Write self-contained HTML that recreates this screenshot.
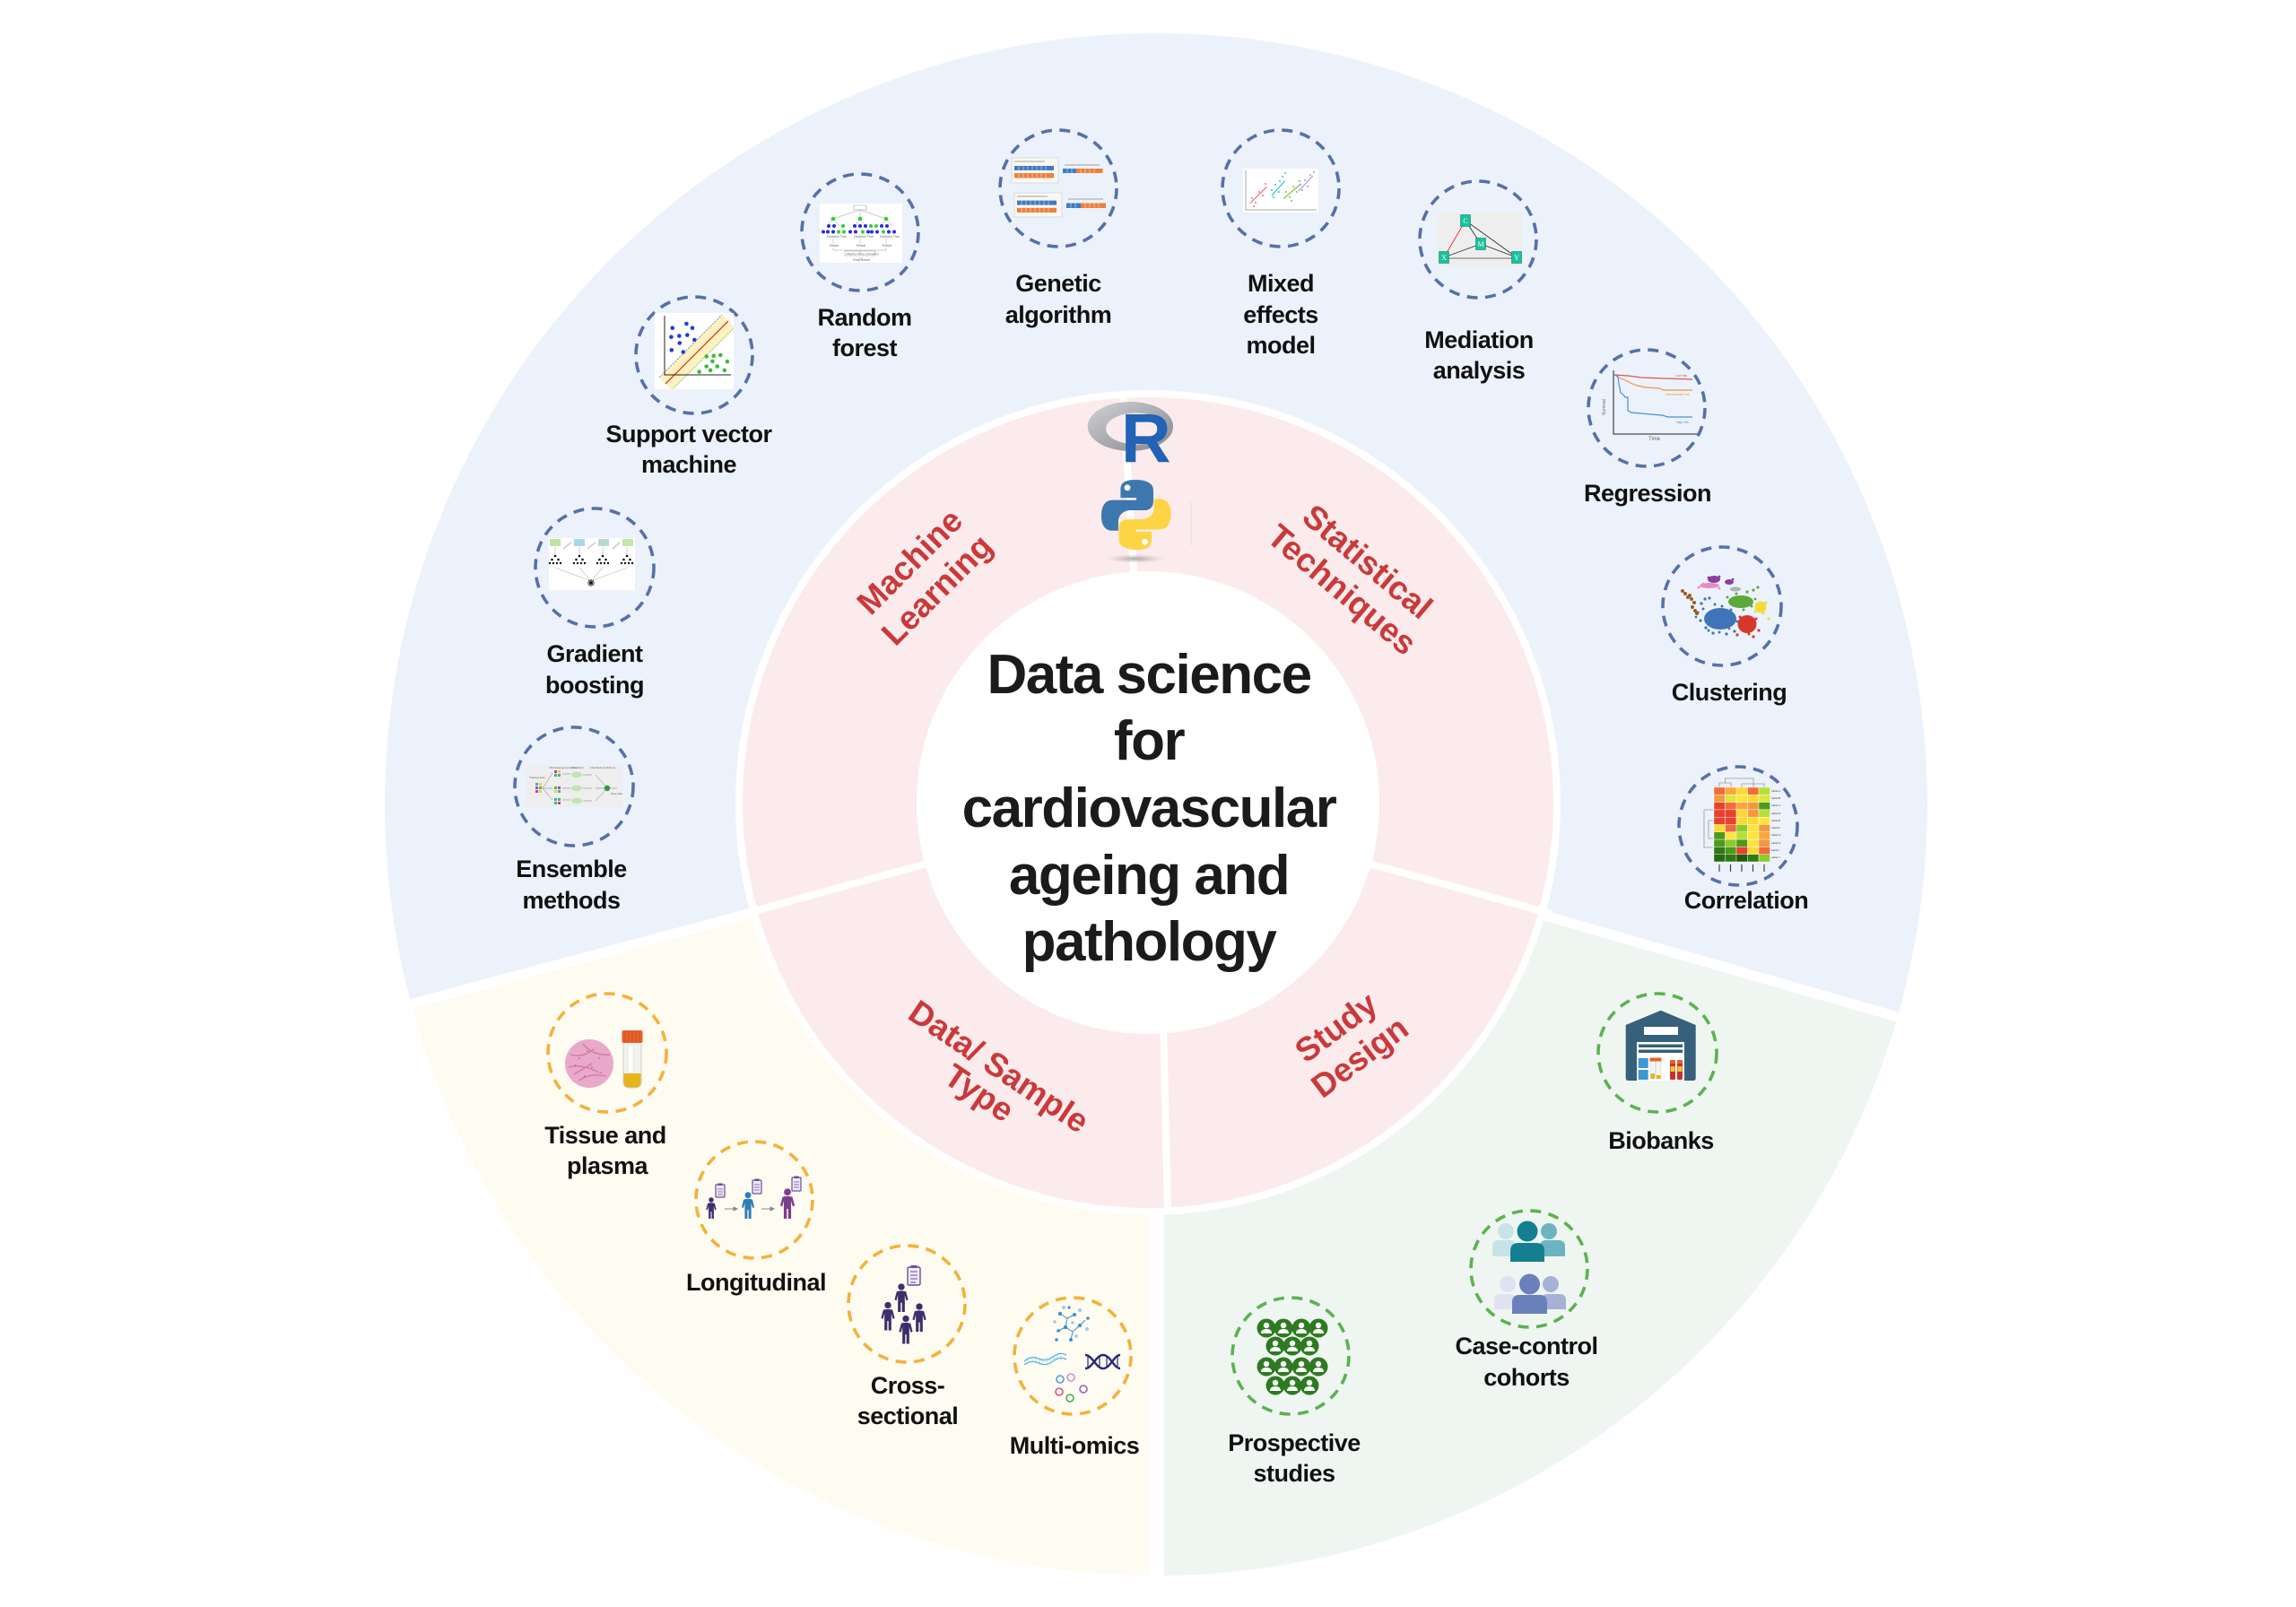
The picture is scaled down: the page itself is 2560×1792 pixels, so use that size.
<!DOCTYPE html>
<html><head><meta charset="utf-8">
<style>
html,body{margin:0;padding:0;background:#fff;}
svg{display:block;}
.lb{font-family:"Liberation Sans",Arial,sans-serif;font-weight:bold;font-size:27px;fill:#111;text-anchor:middle;letter-spacing:-0.5px;}
.rd{font-family:"Liberation Sans",Arial,sans-serif;font-weight:bold;font-size:37px;fill:#c93a3b;text-anchor:middle;}
.tt{font-family:"Liberation Sans",Arial,sans-serif;font-weight:bold;font-size:62px;fill:#1b1b1b;text-anchor:middle;letter-spacing:-1.5px;}
.tiny{font-family:"Liberation Sans",Arial,sans-serif;font-size:3.6px;fill:#666;}
.dc{fill:none;stroke-width:3.6;stroke-dasharray:12 8.5;}
.db{stroke:#5571a9;}
.dy{stroke:#f3b23a;}
.dg{stroke:#5cb24f;}
</style></head><body>
<svg width="2560" height="1792" viewBox="0 0 2560 1792" xmlns="http://www.w3.org/2000/svg">
<defs>
<linearGradient id="rg" x1="0" y1="0" x2="1" y2="1"><stop offset="0" stop-color="#d0d1d5"/><stop offset="1" stop-color="#85878d"/></linearGradient>
<radialGradient id="sh"><stop offset="0" stop-color="#888" stop-opacity="0.7"/><stop offset="1" stop-color="#aaa" stop-opacity="0"/></radialGradient>
<symbol id="person" viewBox="0 0 20 40">
<circle cx="10" cy="5" r="4.6"/>
<path d="M3.5,11.5 Q10,9.5 16.5,11.5 L19.5,23 L16.8,24 L14.8,16.5 L14.8,40 L10.9,40 L10.9,27 L9.1,27 L9.1,40 L5.2,40 L5.2,16.5 L3.2,24 L0.5,23 Z"/>
</symbol>
<clipPath id="csvm"><rect x="730" y="349" width="88" height="85"/></clipPath>
</defs>

<rect width="2560" height="1792" fill="#fff"/>

<!-- outer sectors -->
<path d="M1289,897 L458.3,1119.6 A860,860 0 1 1 2115.7,1134 Z" fill="#ecf2fb"/>
<path d="M1289,897 L1289,1757 A860,860 0 0 1 458.3,1119.6 Z" fill="#fefbf1"/>
<path d="M1289,897 L2115.7,1134 A860,860 0 0 1 1289,1757 Z" fill="#eff6f2"/>
<line x1="1712" y1="1018" x2="2140" y2="1141" stroke="#fff" stroke-width="11"/>
<line x1="864" y1="1011" x2="434" y2="1126" stroke="#fff" stroke-width="11"/>
<line x1="1289.5" y1="1320" x2="1289.5" y2="1775" stroke="#fff" stroke-width="17"/>

<!-- pink ring -->
<circle cx="1280" cy="895" r="460" fill="#fff"/>
<circle cx="1280" cy="895" r="452" fill="#fcebec"/>
<line x1="1264.7" y1="645.5" x2="1252.2" y2="440" stroke="#fff" stroke-width="8"/>
<line x1="1048.6" y1="958.7" x2="830" y2="1019" stroke="#fff" stroke-width="8"/>
<line x1="1511.4" y1="958.7" x2="1730" y2="1019" stroke="#fff" stroke-width="8"/>
<line x1="1297" y1="1140" x2="1302" y2="1350" stroke="#fff" stroke-width="8"/>
<circle cx="1280" cy="895" r="258" fill="#fff"/>

<!-- title -->
<text class="tt" x="1281" y="773">Data science</text>
<text class="tt" x="1281" y="847">for</text>
<text class="tt" x="1281" y="922">cardiovascular</text>
<text class="tt" x="1281" y="997">ageing and</text>
<text class="tt" x="1281" y="1071">pathology</text>

<!-- red labels -->
<g transform="translate(1014,626) rotate(-45)"><text class="rd" y="13">Machine</text></g>
<g transform="translate(1045,658) rotate(-45)"><text class="rd" y="12">Learning</text></g>
<g transform="translate(1525,626) rotate(40)"><text class="rd" y="13">Statistical</text></g>
<g transform="translate(1496,658) rotate(40)"><text class="rd" y="12">Techniques</text></g>
<g transform="translate(1114,1189) rotate(34)"><text class="rd" y="13">Data/ Sample</text></g>
<g transform="translate(1091,1220) rotate(34)"><text class="rd" y="11">Type</text></g>
<g transform="translate(1490,1146) rotate(-37)"><text class="rd" y="12">Study</text></g>
<g transform="translate(1517,1180) rotate(-37)"><text class="rd" y="11">Design</text></g>

<!-- R logo -->
<ellipse cx="1260.4" cy="475.5" rx="47.7" ry="27.5" fill="url(#rg)"/>
<ellipse cx="1267" cy="478" rx="34" ry="17.5" fill="#fcebec"/>
<text x="1250" y="515" style="font-family:'Liberation Sans',Arial,sans-serif;font-weight:bold;font-size:77px;fill:#2163b6;">R</text>
<!-- Python logo -->
<ellipse cx="1266" cy="623" rx="33" ry="5" fill="url(#sh)"/>
<g transform="translate(1228,535) scale(1.26)">
<path fill="#3c78ae" d="M30,0 C18,0 17,5 17,9 L17,16 L31,16 L31,18 L10,18 C3,18 0,24 0,32 C0,41 4,45 10,45 L15,45 L15,37 C15,31 20,27 26,27 L38,27 C43,27 46,24 46,19 L46,9 C46,4 41,0 30,0 Z"/>
<path fill="#fdd444" transform="rotate(180 30.75 31)" d="M30,0 C18,0 17,5 17,9 L17,16 L31,16 L31,18 L10,18 C3,18 0,24 0,32 C0,41 4,45 10,45 L15,45 L15,37 C15,31 20,27 26,27 L38,27 C43,27 46,24 46,19 L46,9 C46,4 41,0 30,0 Z"/>
<circle cx="23" cy="7" r="2.7" fill="#fff"/>
<circle cx="38.5" cy="55" r="2.7" fill="#fff"/>
</g>
<line x1="1328" y1="560" x2="1328" y2="608" stroke="#dcdcdc" stroke-width="1"/>

<!-- ============ BLUE SECTOR ICONS ============ -->
<!-- SVM -->
<circle class="dc db" cx="774" cy="396" r="65"/>
<rect x="730" y="349" width="88" height="85" fill="#fff"/>
<g clip-path="url(#csvm)">
<polygon points="735,421 805,351 819,365 749,435" fill="#fbf2bd"/>
<line x1="742" y1="428" x2="812" y2="358" stroke="#e0312f" stroke-width="1.3"/>
<line x1="735" y1="421" x2="805" y2="351" stroke="#5b6fd6" stroke-width="0.8" stroke-dasharray="2 1.5"/>
<line x1="749" y1="435" x2="819" y2="365" stroke="#6bbf4a" stroke-width="0.8" stroke-dasharray="2 1.5"/>
</g>
<path d="M741,352 L741,418 L815,418" fill="none" stroke="#222" stroke-width="1"/>
<g fill="#1f3fe0">
<circle cx="749.7" cy="365.7" r="2.3"/><circle cx="765.4" cy="361" r="2.3"/><circle cx="772" cy="365.7" r="2.3"/><circle cx="748.4" cy="375.7" r="2.3"/><circle cx="757.3" cy="374.6" r="2.3"/><circle cx="766.3" cy="373.6" r="2.3"/><circle cx="774.3" cy="379" r="2.3"/><circle cx="757.8" cy="382.5" r="2.3"/><circle cx="748.8" cy="390.4" r="2.3"/><circle cx="761.8" cy="392.5" r="2.3"/>
</g>
<g fill="#3dbb3d">
<circle cx="787.7" cy="397.5" r="2.3"/><circle cx="795.7" cy="396.8" r="2.3"/><circle cx="803.3" cy="396" r="2.3"/><circle cx="779.6" cy="414.6" r="2.3"/><circle cx="787.7" cy="408.6" r="2.3"/><circle cx="794.4" cy="402.9" r="2.3"/><circle cx="799.7" cy="408.6" r="2.3"/><circle cx="807.8" cy="412.9" r="2.3"/><circle cx="792.1" cy="412.9" r="2.3"/><circle cx="810.9" cy="403.2" r="2.3"/>
</g>
<text class="lb" x="768" y="493">Support vector</text>
<text class="lb" x="768" y="527">machine</text>

<!-- Random forest -->
<circle class="dc db" cx="959" cy="259" r="65"/>
<rect x="914" y="227" width="92" height="66" fill="#fff"/>
<rect x="952" y="229" width="14" height="5" fill="none" stroke="#999" stroke-width="0.5"/>
<path d="M959,234 L929,244 M959,234 L959,244 M959,234 L988,244 M929,244 L922,252 M929,244 L936,252 M959,244 L953,252 M959,244 L965,252 M988,244 L981,252 M988,244 L995,252 M929,266 V272 M959,266 V272 M988,266 V272 M929,276 V279 H988 V276 M959,279 V283 M959,287 V290" stroke="#999" stroke-width="0.5" fill="none"/>
<g fill="#2fd12f"><circle cx="929" cy="244" r="2.3"/><circle cx="959" cy="244" r="2.3"/><circle cx="988" cy="244" r="2.3"/><circle cx="940" cy="252" r="2"/><circle cx="971" cy="252" r="2"/><circle cx="977" cy="252" r="2"/><circle cx="935" cy="258.5" r="2"/><circle cx="941" cy="258.5" r="2"/><circle cx="962" cy="258.5" r="2"/><circle cx="985" cy="258.5" r="2"/></g>
<g fill="#2a2ae0"><circle cx="924" cy="252" r="2"/><circle cx="930" cy="252" r="2"/><circle cx="953" cy="252" r="2"/><circle cx="959" cy="252" r="2"/><circle cx="965" cy="252" r="2"/><circle cx="983" cy="252" r="2"/><circle cx="989" cy="252" r="2"/><circle cx="918" cy="258.5" r="2"/><circle cx="923" cy="258.5" r="2"/><circle cx="929" cy="258.5" r="2"/><circle cx="948" cy="258.5" r="2"/><circle cx="954" cy="258.5" r="2"/><circle cx="968" cy="258.5" r="2"/><circle cx="972" cy="258.5" r="2"/><circle cx="978" cy="258.5" r="2"/><circle cx="991" cy="258.5" r="2"/><circle cx="997" cy="258.5" r="2"/></g>
<text class="tiny" x="922" y="265">Decision Tree</text><text class="tiny" x="952" y="265">Decision Tree</text><text class="tiny" x="981" y="265">Decision Tree</text>
<text class="tiny" x="925" y="275">Result</text><text class="tiny" x="955" y="275">Result</text><text class="tiny" x="984" y="275">Result</text>
<rect x="942" y="280" width="34" height="5" fill="none" stroke="#999" stroke-width="0.5"/>
<text class="tiny" x="944" y="284" style="font-size:3px">Majority Voting / Averaging</text>
<text class="tiny" x="951" y="291">Final Result</text>
<text class="lb" x="964" y="363">Random</text>
<text class="lb" x="964" y="397">forest</text>

<!-- Genetic algorithm -->
<circle class="dc db" cx="1180" cy="210" r="65"/>
<rect x="1128" y="176" width="52" height="28" fill="#f8f8f2" stroke="#ccc" stroke-width="0.6"/>
<line x1="1131" y1="180" x2="1165" y2="180" stroke="#888" stroke-width="0.8"/>
<rect x="1131" y="185" width="44" height="5" fill="#3e7ac4"/>
<rect x="1131" y="193" width="44" height="5.5" fill="#ef7f3a"/>
<line x1="1187" y1="184" x2="1226" y2="184" stroke="#888" stroke-width="0.8"/>
<rect x="1185" y="188" width="15" height="5" fill="#3e7ac4"/>
<rect x="1200" y="188" width="29.5" height="5" fill="#ef7f3a"/>
<rect x="1131" y="215" width="53" height="27" fill="#f8f8f2" stroke="#ccc" stroke-width="0.6"/>
<line x1="1134" y1="219" x2="1168" y2="219" stroke="#888" stroke-width="0.8"/>
<rect x="1134" y="223.6" width="44" height="5" fill="#3e7ac4"/>
<rect x="1134" y="231.8" width="44" height="5.2" fill="#ef7f3a"/>
<line x1="1191" y1="222" x2="1230" y2="222" stroke="#888" stroke-width="0.8"/>
<rect x="1189" y="226.5" width="16" height="5.5" fill="#3e7ac4"/>
<rect x="1205" y="226.5" width="28" height="5.5" fill="#ef7f3a"/>
<g stroke="#fff" stroke-width="0.5"><path d="M1136,185 v5 M1141,185 v5 M1146,185 v5 M1151,185 v5 M1156,185 v5 M1161,185 v5 M1166,185 v5 M1136,193 v5 M1141,193 v5 M1146,193 v5 M1151,193 v5 M1156,193 v5 M1161,193 v5 M1166,193 v5 M1139,223.6 v5 M1144,223.6 v5 M1149,223.6 v5 M1154,223.6 v5 M1159,223.6 v5 M1164,223.6 v5 M1169,223.6 v5 M1139,231.8 v5 M1144,231.8 v5 M1149,231.8 v5 M1154,231.8 v5 M1159,231.8 v5 M1164,231.8 v5 M1169,231.8 v5 M1190,188 v5 M1195,188 v5 M1205,188 v5 M1210,188 v5 M1215,188 v5 M1220,188 v5 M1194,226.5 v5 M1199,226.5 v5 M1210,226.5 v5 M1215,226.5 v5 M1220,226.5 v5 M1225,226.5 v5"/></g>
<text class="lb" x="1180" y="325">Genetic</text>
<text class="lb" x="1180" y="360">algorithm</text>

<!-- Mixed effects model -->
<circle class="dc db" cx="1428" cy="210" r="65"/>
<rect x="1386" y="188" width="84" height="49" fill="#fff"/>
<path d="M1389,190 L1389,234 L1468,234" fill="none" stroke="#aaa" stroke-width="1"/>
<line x1="1393.8" y1="226.7" x2="1412.5" y2="208.3" stroke="#f07070" stroke-width="1.2"/>
<line x1="1417.9" y1="218.3" x2="1432.6" y2="201.7" stroke="#35c4d0" stroke-width="1.2"/>
<line x1="1431" y1="221.7" x2="1450.4" y2="205" stroke="#86bf3c" stroke-width="1.2"/>
<line x1="1448" y1="213" x2="1463.8" y2="196" stroke="#b48cf0" stroke-width="1.2"/>
<g fill="#f07070"><circle cx="1396" cy="221" r="1"/><circle cx="1400" cy="226" r="1"/><circle cx="1404" cy="214" r="1"/><circle cx="1408" cy="218" r="1"/><circle cx="1411" cy="205" r="1"/><circle cx="1398" cy="230" r="1"/></g>
<g fill="#35c4d0"><circle cx="1418" cy="212" r="1"/><circle cx="1422" cy="206" r="1"/><circle cx="1426" cy="214" r="1"/><circle cx="1430" cy="197" r="1"/><circle cx="1427" cy="202" r="1"/><circle cx="1420" cy="220" r="1"/><circle cx="1433" cy="193" r="1"/></g>
<g fill="#86bf3c"><circle cx="1434" cy="214" r="1"/><circle cx="1438" cy="220" r="1"/><circle cx="1442" cy="208" r="1"/><circle cx="1446" cy="214" r="1"/><circle cx="1449" cy="202" r="1"/><circle cx="1440" cy="224" r="1"/></g>
<g fill="#b48cf0"><circle cx="1450" cy="206" r="1"/><circle cx="1455" cy="201" r="1"/><circle cx="1458" cy="208" r="1"/><circle cx="1461" cy="195" r="1"/><circle cx="1465" cy="192" r="1"/><circle cx="1452" cy="212" r="1"/></g>
<text class="lb" x="1428" y="325">Mixed</text>
<text class="lb" x="1428" y="360">effects</text>
<text class="lb" x="1428" y="394">model</text>

<!-- Mediation -->
<circle class="dc db" cx="1648" cy="267" r="65"/>
<rect x="1602" y="237" width="96" height="60" fill="#eeeeee"/>
<line x1="1634" y1="246" x2="1610" y2="287" stroke="#e53935" stroke-width="1"/>
<g stroke="#333" stroke-width="0.9"><line x1="1634" y1="246" x2="1651" y2="272"/><line x1="1634" y1="246" x2="1691" y2="287"/><line x1="1610" y1="287" x2="1651" y2="272"/><line x1="1651" y1="272" x2="1691" y2="287"/></g>
<line x1="1610" y1="288" x2="1691" y2="288" stroke="#999" stroke-width="1.6"/>
<g fill="#19c39a" stroke="#0b8c6c" stroke-width="0.6"><rect x="1628.5" y="239.5" width="11" height="13"/><rect x="1645.5" y="265.5" width="11" height="13"/><rect x="1604.5" y="280.5" width="11" height="13"/><rect x="1685.5" y="280.5" width="11" height="13"/></g>
<g style="font-family:'Liberation Serif',serif;font-size:8px;fill:#fff;text-anchor:middle"><text x="1634" y="249">C</text><text x="1651" y="275">M</text><text x="1610" y="290">X</text><text x="1691" y="290">Y</text></g>
<text class="lb" x="1649" y="388">Mediation</text>
<text class="lb" x="1649" y="422">analysis</text>

<!-- Regression -->
<circle class="dc db" cx="1836" cy="455" r="65"/>
<path d="M1799,413 L1799,484 L1892,484" fill="none" stroke="#222" stroke-width="1"/>
<path d="M1800,418 L1815,419 L1830,421 L1855,422 L1887,423" fill="none" stroke="#e05555" stroke-width="1.2"/>
<path d="M1800,418 L1805,421 L1812,424 L1818,427 L1825,430 L1835,432 L1850,433 L1855,435 L1887,435" fill="none" stroke="#f0963c" stroke-width="1.2"/>
<path d="M1800,418 L1804,420 L1805,428 L1807,438 L1810,440 L1812,443 L1815,443 L1815,458 L1819,460 L1830,461 L1840,462 L1853,463 L1860,465 L1887,465" fill="none" stroke="#4a90d9" stroke-width="1.2"/>
<text class="tiny" x="1868" y="420" style="fill:#e05555">Low risk</text>
<text class="tiny" x="1857" y="441" style="fill:#f0963c">Intermediate risk</text>
<text class="tiny" x="1869" y="472" style="fill:#4a90d9">High risk</text>
<text class="tiny" x="1838" y="491" style="font-size:6px">Time</text>
<text class="tiny" x="0" y="0" style="font-size:5px" transform="translate(1790,463) rotate(-90)">Survival</text>
<text class="lb" x="1837" y="559">Regression</text>

<!-- Clustering -->
<circle class="dc db" cx="1920" cy="676" r="66"/>
<ellipse cx="1906" cy="653" rx="11" ry="3" fill="#e68bc6"/>
<ellipse cx="1911" cy="646" rx="7" ry="4" fill="#8b3e9e"/>
<ellipse cx="1928" cy="649" rx="5" ry="3" fill="#8b3e9e"/>
<ellipse cx="1935" cy="657" rx="6" ry="2.5" fill="#b0b0b0"/>
<ellipse cx="1918" cy="690" rx="18" ry="12" fill="#3f74b8"/>
<ellipse cx="1941" cy="671" rx="14" ry="7" fill="#5aa93b"/>
<ellipse cx="1963" cy="677" rx="6.5" ry="6.5" fill="#f3dc3a"/>
<ellipse cx="1948" cy="696" rx="10.5" ry="10" fill="#d7382b"/>
<g fill="#3f74b8"><circle cx="1897" cy="673" r="1.6"/><circle cx="1901" cy="668" r="1.6"/><circle cx="1906" cy="667" r="1.6"/><circle cx="1893" cy="683" r="1.6"/><circle cx="1910" cy="706" r="1.6"/><circle cx="1925" cy="707" r="1.6"/><circle cx="1934" cy="704" r="1.6"/><circle cx="1902" cy="700" r="1.6"/><circle cx="1896" cy="692" r="1.6"/><circle cx="1899" cy="679" r="1.5"/><circle cx="1912" cy="674" r="1.5"/><circle cx="1920" cy="676" r="1.5"/><circle cx="1930" cy="680" r="1.5"/><circle cx="1937" cy="693" r="1.5"/><circle cx="1917" cy="705" r="1.5"/><circle cx="1905" cy="703" r="1.5"/><circle cx="1891" cy="688" r="1.4"/><circle cx="1928" cy="701" r="1.4"/></g>
<g fill="#9c5a22"><circle cx="1876" cy="659" r="2"/><circle cx="1879" cy="662" r="2"/><circle cx="1882" cy="666" r="2"/><circle cx="1886" cy="668" r="2"/><circle cx="1889" cy="672" r="2"/><circle cx="1887" cy="677" r="2"/><circle cx="1890" cy="681" r="2"/><circle cx="1892" cy="684" r="2"/><circle cx="1884" cy="664" r="2"/></g>
<g fill="#5aa93b"><circle cx="1955" cy="658" r="1.6"/><circle cx="1960" cy="655" r="1.6"/><circle cx="1948" cy="660" r="1.6"/><circle cx="1930" cy="670" r="1.5"/><circle cx="1926" cy="666" r="1.5"/><circle cx="1953" cy="676" r="1.5"/><circle cx="1944" cy="680" r="1.5"/><circle cx="1936" cy="662" r="1.5"/><circle cx="1957" cy="668" r="1.4"/></g>
<g fill="#d7382b"><circle cx="1955" cy="710" r="1.6"/><circle cx="1937" cy="708" r="1.6"/><circle cx="1961" cy="703" r="1.6"/><circle cx="1940" cy="688" r="1.5"/><circle cx="1958" cy="690" r="1.5"/><circle cx="1950" cy="707" r="1.5"/><circle cx="1943" cy="702" r="1.4"/></g>
<g fill="#f3dc3a"><circle cx="1972" cy="690" r="1.6"/><circle cx="1969" cy="672" r="1.5"/><circle cx="1957" cy="682" r="1.5"/><circle cx="1966" cy="684" r="1.4"/></g>
<g fill="#e68bc6"><circle cx="1894" cy="655" r="1.4"/><circle cx="1899" cy="651" r="1.4"/><circle cx="1917" cy="656" r="1.4"/></g>
<g fill="#8b3e9e"><circle cx="1905" cy="644" r="1.4"/><circle cx="1917" cy="643" r="1.4"/><circle cx="1932" cy="646" r="1.4"/></g>
<text class="lb" x="1928" y="781">Clustering</text>

<!-- Correlation heatmap -->
<circle class="dc db" cx="1938" cy="921" r="66"/>
<path d="M1917,878 V873 H1930 V878 M1923.5,873 V868 H1955 V878 M1942,878 V874 H1967 V878" fill="none" stroke="#999" stroke-width="0.8"/>
<path d="M1910,903 H1900 V945 H1910 M1910,915 H1905 V935 H1910" fill="none" stroke="#999" stroke-width="0.8"/>
<g stroke="#fff" stroke-width="0.4">
<rect x="1911" y="878" width="12.5" height="8.3" fill="#f26b38"/><rect x="1923.5" y="878" width="12.5" height="8.3" fill="#f9a73e"/><rect x="1936" y="878" width="12.5" height="8.3" fill="#fdd835"/><rect x="1948.5" y="878" width="12.5" height="8.3" fill="#f26b38"/><rect x="1961" y="878" width="12.5" height="8.3" fill="#b5e03a"/>
<rect x="1911" y="886.3" width="12.5" height="8.3" fill="#f39a3e"/><rect x="1923.5" y="886.3" width="12.5" height="8.3" fill="#dce83c"/><rect x="1936" y="886.3" width="12.5" height="8.3" fill="#fde43e"/><rect x="1948.5" y="886.3" width="12.5" height="8.3" fill="#fdd835"/><rect x="1961" y="886.3" width="12.5" height="8.3" fill="#dce83c"/>
<rect x="1911" y="894.6" width="12.5" height="8.3" fill="#e8412e"/><rect x="1923.5" y="894.6" width="12.5" height="8.3" fill="#f26b38"/><rect x="1936" y="894.6" width="12.5" height="8.3" fill="#f9a73e"/><rect x="1948.5" y="894.6" width="12.5" height="8.3" fill="#f39a3e"/><rect x="1961" y="894.6" width="12.5" height="8.3" fill="#4b9a1c"/>
<rect x="1911" y="902.9" width="12.5" height="8.3" fill="#e8412e"/><rect x="1923.5" y="902.9" width="12.5" height="8.3" fill="#e8412e"/><rect x="1936" y="902.9" width="12.5" height="8.3" fill="#fdd835"/><rect x="1948.5" y="902.9" width="12.5" height="8.3" fill="#f39a3e"/><rect x="1961" y="902.9" width="12.5" height="8.3" fill="#b5e03a"/>
<rect x="1911" y="911.2" width="12.5" height="8.3" fill="#e8412e"/><rect x="1923.5" y="911.2" width="12.5" height="8.3" fill="#e8412e"/><rect x="1936" y="911.2" width="12.5" height="8.3" fill="#fdd835"/><rect x="1948.5" y="911.2" width="12.5" height="8.3" fill="#fdd835"/><rect x="1961" y="911.2" width="12.5" height="8.3" fill="#fde43e"/>
<rect x="1911" y="919.5" width="12.5" height="8.3" fill="#fdd835"/><rect x="1923.5" y="919.5" width="12.5" height="8.3" fill="#f26b38"/><rect x="1936" y="919.5" width="12.5" height="8.3" fill="#8ccc2a"/><rect x="1948.5" y="919.5" width="12.5" height="8.3" fill="#fde43e"/><rect x="1961" y="919.5" width="12.5" height="8.3" fill="#f39a3e"/>
<rect x="1911" y="927.8" width="12.5" height="8.3" fill="#4b9a1c"/><rect x="1923.5" y="927.8" width="12.5" height="8.3" fill="#fde43e"/><rect x="1936" y="927.8" width="12.5" height="8.3" fill="#b5e03a"/><rect x="1948.5" y="927.8" width="12.5" height="8.3" fill="#fde43e"/><rect x="1961" y="927.8" width="12.5" height="8.3" fill="#f9a73e"/>
<rect x="1911" y="936.1" width="12.5" height="8.3" fill="#4b9a1c"/><rect x="1923.5" y="936.1" width="12.5" height="8.3" fill="#8ccc2a"/><rect x="1936" y="936.1" width="12.5" height="8.3" fill="#4b9a1c"/><rect x="1948.5" y="936.1" width="12.5" height="8.3" fill="#fde43e"/><rect x="1961" y="936.1" width="12.5" height="8.3" fill="#f39a3e"/>
<rect x="1911" y="944.4" width="12.5" height="8.3" fill="#2e7a14"/><rect x="1923.5" y="944.4" width="12.5" height="8.3" fill="#4b9a1c"/><rect x="1936" y="944.4" width="12.5" height="8.3" fill="#e8412e"/><rect x="1948.5" y="944.4" width="12.5" height="8.3" fill="#fdd835"/><rect x="1961" y="944.4" width="12.5" height="8.3" fill="#f26b38"/>
<rect x="1911" y="952.7" width="12.5" height="8.3" fill="#256b10"/><rect x="1923.5" y="952.7" width="12.5" height="8.3" fill="#2e7a14"/><rect x="1936" y="952.7" width="12.5" height="8.3" fill="#1e5c0a"/><rect x="1948.5" y="952.7" width="12.5" height="8.3" fill="#2e7a14"/><rect x="1961" y="952.7" width="12.5" height="8.3" fill="#8ccc2a"/>
</g>
<g class="tiny" style="font-size:3px;fill:#333"><text x="1975" y="883">Label A</text><text x="1975" y="891">Label B</text><text x="1975" y="899">Label C</text><text x="1975" y="908">Label D</text><text x="1975" y="916">Label E</text><text x="1975" y="924">Label F</text><text x="1975" y="932">Label G</text><text x="1975" y="941">Label H</text><text x="1975" y="949">Label I</text><text x="1975" y="957">Label J</text></g>
<g stroke="#444" stroke-width="1.2"><line x1="1917" y1="964" x2="1917" y2="972"/><line x1="1929.5" y1="964" x2="1929.5" y2="972"/><line x1="1942" y1="964" x2="1942" y2="972"/><line x1="1954.5" y1="964" x2="1954.5" y2="972"/><line x1="1967" y1="964" x2="1967" y2="972"/></g>
<text class="lb" x="1947" y="1013">Correlation</text>

<!-- Gradient boosting -->
<circle class="dc db" cx="663" cy="633" r="66"/>
<rect x="612" y="600" width="96" height="58" fill="#fff"/>
<rect x="613" y="601" width="12" height="8" fill="#bfe3a4"/><rect x="640" y="601" width="12" height="8" fill="#a6d8ea"/><rect x="667" y="601" width="12" height="8" fill="#b5dccb"/><rect x="694" y="601" width="12" height="8" fill="#c3e6a9"/>
<g stroke="#ccc" stroke-width="1.5"><line x1="628" y1="612" x2="637" y2="605"/><line x1="655" y1="612" x2="664" y2="605"/><line x1="683" y1="612" x2="691" y2="605"/></g>
<g stroke="#999" stroke-width="0.5"><line x1="619" y1="610" x2="619" y2="619"/><line x1="646" y1="610" x2="646" y2="619"/><line x1="672" y1="610" x2="672" y2="619"/><line x1="699" y1="610" x2="699" y2="619"/></g>
<g fill="#111">
<circle cx="619" cy="620" r="1.3"/><circle cx="615.5" cy="624" r="1.3"/><circle cx="622.5" cy="624" r="1.3"/><circle cx="613" cy="628" r="1.2"/><circle cx="617" cy="628" r="1.2"/><circle cx="621" cy="628" r="1.2"/><circle cx="625" cy="628" r="1.2"/>
<circle cx="646" cy="620" r="1.3"/><circle cx="642.5" cy="624" r="1.3"/><circle cx="649.5" cy="624" r="1.3"/><circle cx="640" cy="628" r="1.2"/><circle cx="644" cy="628" r="1.2"/><circle cx="648" cy="628" r="1.2"/><circle cx="652" cy="628" r="1.2"/>
<circle cx="672" cy="620" r="1.3"/><circle cx="668.5" cy="624" r="1.3"/><circle cx="675.5" cy="624" r="1.3"/><circle cx="666" cy="628" r="1.2"/><circle cx="670" cy="628" r="1.2"/><circle cx="674" cy="628" r="1.2"/><circle cx="678" cy="628" r="1.2"/>
<circle cx="699" cy="620" r="1.3"/><circle cx="695.5" cy="624" r="1.3"/><circle cx="702.5" cy="624" r="1.3"/><circle cx="693" cy="628" r="1.2"/><circle cx="697" cy="628" r="1.2"/><circle cx="701" cy="628" r="1.2"/><circle cx="705" cy="628" r="1.2"/>
</g>
<g stroke="#bbb" stroke-width="0.6"><line x1="619" y1="633" x2="659" y2="648"/><line x1="646" y1="633" x2="659" y2="648"/><line x1="672" y1="633" x2="659" y2="648"/><line x1="699" y1="633" x2="659" y2="648"/></g>
<g stroke="#111" stroke-width="1"><line x1="659" y1="646" x2="659" y2="654"/><line x1="655" y1="650" x2="663" y2="650"/><line x1="656" y1="647" x2="662" y2="653"/><line x1="662" y1="647" x2="656" y2="653"/></g>

<text class="lb" x="663" y="738">Gradient</text>
<text class="lb" x="663" y="773">boosting</text>

<!-- Ensemble -->
<circle class="dc db" cx="640" cy="877" r="66"/>
<rect x="587" y="854" width="106" height="46" fill="#eeeeee"/>
<g><rect x="597" y="873" width="3" height="3" fill="#39b8a0"/><rect x="601" y="873" width="3" height="3" fill="#e6d23c"/><rect x="597" y="877" width="3" height="3" fill="#c03cc0"/><rect x="601" y="877" width="3" height="3" fill="#4cb84c"/><rect x="597" y="881" width="3" height="3" fill="#c03cc0"/><rect x="601" y="881" width="3" height="3" fill="#e6d23c"/>
<rect x="618" y="859" width="3" height="3" fill="#c03cc0"/><rect x="622" y="859" width="3" height="3" fill="#e6d23c"/><rect x="618" y="863" width="3" height="3" fill="#4cb84c"/><rect x="622" y="863" width="3" height="3" fill="#39b8a0"/>
<rect x="618" y="877" width="3" height="3" fill="#4cb84c"/><rect x="622" y="877" width="3" height="3" fill="#c03cc0"/><rect x="618" y="881" width="3" height="3" fill="#e6d23c"/><rect x="622" y="881" width="3" height="3" fill="#39b8a0"/>
<rect x="618" y="890" width="3" height="3" fill="#39b8a0"/><rect x="622" y="890" width="3" height="3" fill="#4cb84c"/><rect x="618" y="894" width="3" height="3" fill="#4cb84c"/><rect x="622" y="894" width="3" height="3" fill="#c03cc0"/></g>
<g stroke="#777" stroke-width="0.5" fill="none"><path d="M605,879 L616,862 M605,879 L616,879 M605,879 L616,892 M627,863 H636 M627,879 H636 M627,892 H636 M650,864 H660 M650,879 H660 M650,893 H660 M664,864 L677,879 M664,879 H677 M664,893 L677,879 M680,879 H688"/></g>
<g fill="#c2e3b3"><ellipse cx="643" cy="864" rx="6" ry="3.2"/><ellipse cx="643" cy="879" rx="6" ry="3.2"/><ellipse cx="643" cy="893" rx="6" ry="3.2"/></g>
<circle cx="677" cy="879" r="3.2" fill="#2e9b3e"/>
<text class="tiny" x="590" y="868" style="font-size:3px">Training data</text>
<text class="tiny" x="613" y="857" style="font-size:3px">Bootstrapped samples</text>
<text class="tiny" x="637" y="857" style="font-size:3px">Classifiers</text>
<text class="tiny" x="658" y="857" style="font-size:3px">Individual predictions</text>
<text class="tiny" x="681" y="886" style="font-size:3px">Ensemble</text>
<text class="lb" x="637" y="978">Ensemble</text>
<text class="lb" x="637" y="1013">methods</text>

<!-- ============ YELLOW SECTOR ICONS ============ -->
<!-- Tissue and plasma -->
<circle class="dc dy" cx="677" cy="1174" r="66"/>
<circle cx="657" cy="1186" r="27" fill="#e9a9ca"/>
<g stroke="#d27aa9" stroke-width="1.4" fill="none"><path d="M636,1176 Q650,1180 662,1170"/><path d="M634,1190 Q648,1186 668,1196"/><path d="M645,1205 Q658,1196 676,1200"/><path d="M650,1164 Q662,1178 680,1176"/><path d="M640,1198 Q650,1192 660,1186"/></g>
<g fill="#8a5a9a"><circle cx="646" cy="1180" r="0.8"/><circle cx="660" cy="1190" r="0.8"/><circle cx="668" cy="1180" r="0.8"/><circle cx="652" cy="1200" r="0.8"/><circle cx="670" cy="1196" r="0.8"/><circle cx="641" cy="1188" r="0.8"/><circle cx="655" cy="1172" r="0.8"/></g>
<rect x="695" y="1160" width="20" height="53" rx="6" fill="#f2f2ef" stroke="#cfcfcf" stroke-width="1"/>
<rect x="700" y="1166" width="6" height="30" fill="#fff" stroke="#ddd" stroke-width="0.6"/>
<path d="M695.5,1197 H714.5 V1207 Q714.5,1212.5 709,1212.5 H701 Q695.5,1212.5 695.5,1207 Z" fill="#e6b51c"/>
<rect x="693.5" y="1149" width="23" height="14" rx="2" fill="#e8622a"/>
<g stroke="#c44a1a" stroke-width="0.8"><line x1="697" y1="1150" x2="697" y2="1162"/><line x1="701" y1="1150" x2="701" y2="1162"/><line x1="705" y1="1150" x2="705" y2="1162"/><line x1="709" y1="1150" x2="709" y2="1162"/><line x1="713" y1="1150" x2="713" y2="1162"/></g>
<text class="lb" x="675" y="1275">Tissue and</text>
<text class="lb" x="677" y="1309">plasma</text>

<!-- Longitudinal -->
<circle class="dc dy" cx="841" cy="1338" r="65"/>
<use href="#person" x="787" y="1335" width="12" height="24" fill="#3b2f6e"/>
<use href="#person" x="826.5" y="1329" width="15" height="30" fill="#2c7fb4"/>
<use href="#person" x="869.5" y="1325" width="17" height="34" fill="#7b3f8f"/>
<g fill="#efe8f6" stroke="#6a4f95" stroke-width="1.2"><rect x="798" y="1321" width="10" height="14" rx="1"/><rect x="839" y="1316" width="10" height="15" rx="1"/><rect x="883" y="1313" width="10" height="15" rx="1"/></g>
<g stroke="#6a4f95" stroke-width="0.8"><path d="M800,1326 h6 M800,1329 h6 M800,1332 h6 M841,1321 h6 M841,1324 h6 M841,1327 h6 M885,1318 h6 M885,1321 h6 M885,1324 h6"/></g>
<g fill="#6a4f95"><rect x="800.5" y="1319.5" width="5" height="2.5"/><rect x="841.5" y="1314.5" width="5" height="2.5"/><rect x="885.5" y="1311.5" width="5" height="2.5"/></g>
<g stroke="#888" stroke-width="1" fill="#888"><line x1="808" y1="1348" x2="819" y2="1348"/><polygon points="822,1348 818,1346 818,1350"/><line x1="849" y1="1348" x2="860" y2="1348"/><polygon points="863,1348 859,1346 859,1350"/></g>
<text class="lb" x="843" y="1439">Longitudinal</text>

<!-- Cross-sectional -->
<circle class="dc dy" cx="1011" cy="1454" r="65"/>
<g fill="#3d2f6b">
<use href="#person" x="997" y="1431" width="16" height="32"/>
<use href="#person" x="982" y="1451" width="16" height="33"/>
<use href="#person" x="1017" y="1453" width="16" height="32"/>
<use href="#person" x="1002" y="1466" width="16" height="33"/>
</g>
<rect x="1012" y="1413" width="14" height="20" rx="1.5" fill="#efe8f6" stroke="#6a4f95" stroke-width="1.4"/>
<rect x="1015.5" y="1411" width="7" height="3" fill="#6a4f95"/>
<path d="M1015,1418 h8 M1015,1422 h8 M1015,1426 h8 M1015,1430 h6" stroke="#6a4f95" stroke-width="1"/>
<text class="lb" x="1012" y="1554">Cross-</text>
<text class="lb" x="1012" y="1588">sectional</text>

<!-- Multi-omics -->
<circle class="dc dy" cx="1196" cy="1512" r="65"/>
<g stroke="#3a8fd0" stroke-width="1" fill="none"><path d="M1182,1465 L1190,1470 L1198,1466 M1190,1470 L1188,1480 L1196,1485 L1204,1478 L1210,1472 M1188,1480 L1180,1484 M1196,1485 L1194,1494"/></g>
<g fill="#3a8fd0"><circle cx="1182" cy="1465" r="2.2"/><circle cx="1198" cy="1466" r="2"/><circle cx="1188" cy="1480" r="2.2"/><circle cx="1204" cy="1478" r="2"/><circle cx="1180" cy="1484" r="1.8"/><circle cx="1194" cy="1494" r="2"/><circle cx="1178" cy="1494" r="1.8"/><circle cx="1213" cy="1470" r="1.8"/><circle cx="1192" cy="1458" r="1.6"/></g>
<g fill="#9ccbea"><circle cx="1186" cy="1458" r="2"/><circle cx="1204" cy="1461" r="2"/><circle cx="1212" cy="1482" r="2"/><circle cx="1200" cy="1490" r="1.8"/><circle cx="1176" cy="1474" r="1.8"/><circle cx="1196" cy="1475" r="1.8"/></g>
<g stroke="#5ab0e0" stroke-width="1.3" fill="none"><path d="M1142,1518 Q1150,1511 1158,1515 T1174,1513 T1189,1511"/><path d="M1142,1522 Q1150,1516 1158,1520 T1174,1518 T1189,1516"/></g>
<g stroke="#8ccbee" stroke-width="0.8"><path d="M1147,1514 v6 M1151,1513 v6 M1155,1514 v6 M1159,1515 v5 M1163,1515 v5 M1167,1514 v5 M1171,1513 v5 M1175,1513 v5 M1179,1512 v5 M1183,1512 v5"/></g>
<g stroke="#262a78" stroke-width="2.4" fill="none"><path d="M1210,1511 C1218,1511 1222,1526 1230,1526 S1242,1511 1249,1511"/><path d="M1210,1526 C1218,1526 1222,1511 1230,1511 S1242,1526 1249,1526"/></g>
<g stroke="#262a78" stroke-width="1.2"><path d="M1213,1512 v13 M1226,1513 v12 M1234,1513 v12 M1246,1512 v13"/></g>
<g fill="none" stroke-width="1.6"><circle cx="1182" cy="1538" r="4" stroke="#4f9de0"/><circle cx="1194" cy="1536" r="4" stroke="#d78ad8"/><circle cx="1181" cy="1552" r="4" stroke="#e0507a"/><circle cx="1208" cy="1549" r="4" stroke="#9b5fc0"/><circle cx="1193" cy="1559" r="4" stroke="#45b04a"/></g>
<text class="lb" x="1198" y="1621">Multi-omics</text>

<!-- ============ GREEN SECTOR ICONS ============ -->
<!-- Biobanks -->
<circle class="dc dg" cx="1848" cy="1174" r="66"/>
<path d="M1812.7,1143 L1851.7,1126.7 L1890.7,1143 L1890.7,1202 Q1890.7,1205 1887.7,1205 L1815.7,1205 Q1812.7,1205 1812.7,1202 Z" fill="#36607b"/>
<rect x="1833" y="1145" width="38" height="9" fill="#fff"/>
<rect x="1825" y="1162" width="53" height="43" fill="#fff"/>
<rect x="1827" y="1164.5" width="49" height="3.5" fill="#36607b"/>
<rect x="1827" y="1170.5" width="49" height="3.5" fill="#36607b"/>
<rect x="1826.7" y="1180" width="11" height="11" fill="#3a99d4"/>
<rect x="1826.7" y="1193" width="11" height="11" fill="#3a99d4"/>
<g><rect x="1840" y="1182" width="5.5" height="21" rx="2" fill="#f4f4f4" stroke="#ccc" stroke-width="0.5"/><rect x="1846.5" y="1182" width="5.5" height="21" rx="2" fill="#f4f4f4" stroke="#ccc" stroke-width="0.5"/><rect x="1839.5" y="1179.5" width="6.5" height="4" fill="#e8622a"/><rect x="1846" y="1179.5" width="6.5" height="4" fill="#e8622a"/><rect x="1840.5" y="1197" width="4.5" height="6" fill="#e6b51c"/><rect x="1847" y="1199" width="4.5" height="4" fill="#e6b51c"/></g>
<g><rect x="1862" y="1184" width="6" height="20" rx="1.5" fill="#c9302c"/><rect x="1870" y="1184" width="6" height="20" rx="1.5" fill="#c9302c"/><rect x="1862" y="1182" width="6" height="4" fill="#e8622a"/><rect x="1870" y="1182" width="6" height="4" fill="#e8622a"/><rect x="1862.5" y="1189" width="5" height="6" fill="#f2c53a"/><rect x="1870.5" y="1189" width="5" height="6" fill="#f2c53a"/></g>
<text class="lb" x="1852" y="1281">Biobanks</text>

<!-- Case-control -->
<circle class="dc dg" cx="1705" cy="1415" r="65"/>
<g fill="#c8e3e8"><circle cx="1679" cy="1373" r="9"/><path d="M1664,1401 V1390 Q1664,1383 1671,1383 H1683 Q1690,1383 1690,1390 V1401 Z"/></g>
<g fill="#6db4c1"><circle cx="1727" cy="1373" r="9"/><path d="M1717,1401 V1390 Q1717,1383 1724,1383 H1738 Q1745,1383 1745,1390 V1401 Z"/></g>
<g fill="#137f91"><circle cx="1703" cy="1373" r="11.5"/><path d="M1684,1407 V1395 Q1684,1386 1693,1386 H1713 Q1722,1386 1722,1395 V1407 Z"/></g>
<g fill="#dfe2f0"><circle cx="1681" cy="1432" r="9"/><path d="M1666,1460 V1450 Q1666,1443 1673,1443 H1683 Q1690,1443 1690,1450 V1460 Z"/></g>
<g fill="#a5b1d7"><circle cx="1729" cy="1432" r="9"/><path d="M1719,1460 V1450 Q1719,1443 1726,1443 H1739 Q1746,1443 1746,1450 V1460 Z"/></g>
<g fill="#6a80bc"><circle cx="1705.5" cy="1432" r="11.5"/><path d="M1686,1465 V1452 Q1686,1444 1694,1444 H1717 Q1725,1444 1725,1452 V1465 Z"/></g>
<text class="lb" x="1702" y="1510">Case-control</text>
<text class="lb" x="1702" y="1545">cohorts</text>

<!-- Prospective -->
<circle class="dc dg" cx="1439" cy="1512" r="65"/>
<g fill="#2e7a21">
<circle cx="1412" cy="1481" r="10.5"/><circle cx="1431" cy="1481" r="10.5"/><circle cx="1451" cy="1481" r="10.5"/><circle cx="1470" cy="1481" r="10.5"/>
<circle cx="1422" cy="1501" r="10.5"/><circle cx="1441" cy="1501" r="10.5"/><circle cx="1460" cy="1501" r="10.5"/>
<circle cx="1412" cy="1524" r="10.5"/><circle cx="1431" cy="1524" r="10.5"/><circle cx="1451" cy="1524" r="10.5"/><circle cx="1470" cy="1524" r="10.5"/>
<circle cx="1422" cy="1545" r="10.5"/><circle cx="1441" cy="1545" r="10.5"/><circle cx="1460" cy="1545" r="10.5"/>
</g>
<g fill="#fff">
<circle cx="1412" cy="1478" r="3.2"/><path d="M1406,1487 Q1406,1482 1412,1482 Q1418,1482 1418,1487 Z"/>
<circle cx="1431" cy="1478" r="3.2"/><path d="M1425,1487 Q1425,1482 1431,1482 Q1437,1482 1437,1487 Z"/>
<circle cx="1451" cy="1478" r="3.2"/><path d="M1445,1487 Q1445,1482 1451,1482 Q1457,1482 1457,1487 Z"/>
<circle cx="1470" cy="1478" r="3.2"/><path d="M1464,1487 Q1464,1482 1470,1482 Q1476,1482 1476,1487 Z"/>
<circle cx="1422" cy="1498" r="3.2"/><path d="M1416,1507 Q1416,1502 1422,1502 Q1428,1502 1428,1507 Z"/>
<circle cx="1441" cy="1498" r="3.2"/><path d="M1435,1507 Q1435,1502 1441,1502 Q1447,1502 1447,1507 Z"/>
<circle cx="1460" cy="1498" r="3.2"/><path d="M1454,1507 Q1454,1502 1460,1502 Q1466,1502 1466,1507 Z"/>
<circle cx="1412" cy="1521" r="3.2"/><path d="M1406,1530 Q1406,1525 1412,1525 Q1418,1525 1418,1530 Z"/>
<circle cx="1431" cy="1521" r="3.2"/><path d="M1425,1530 Q1425,1525 1431,1525 Q1437,1525 1437,1530 Z"/>
<circle cx="1451" cy="1521" r="3.2"/><path d="M1445,1530 Q1445,1525 1451,1525 Q1457,1525 1457,1530 Z"/>
<circle cx="1470" cy="1521" r="3.2"/><path d="M1464,1530 Q1464,1525 1470,1525 Q1476,1525 1476,1530 Z"/>
<circle cx="1422" cy="1542" r="3.2"/><path d="M1416,1551 Q1416,1546 1422,1546 Q1428,1546 1428,1551 Z"/>
<circle cx="1441" cy="1542" r="3.2"/><path d="M1435,1551 Q1435,1546 1441,1546 Q1447,1546 1447,1551 Z"/>
<circle cx="1460" cy="1542" r="3.2"/><path d="M1454,1551 Q1454,1546 1460,1546 Q1466,1546 1466,1551 Z"/>
</g>
<text class="lb" x="1443" y="1618">Prospective</text>
<text class="lb" x="1443" y="1652">studies</text>

</svg>
</body></html>
